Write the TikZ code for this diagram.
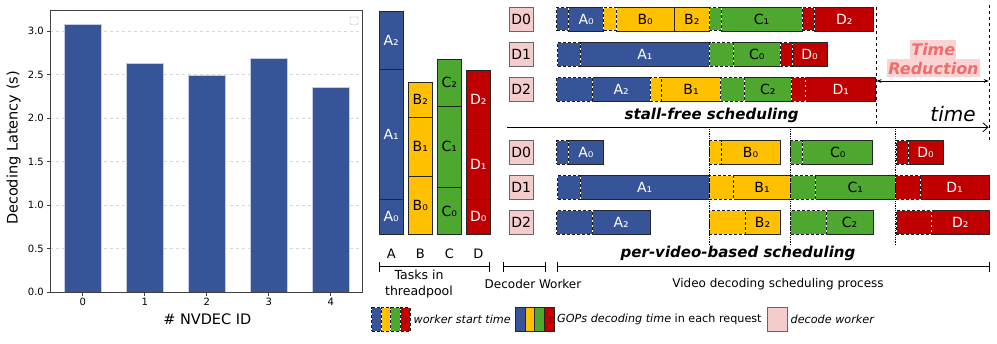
\documentclass[tikz,border=0pt]{standalone}
\usepackage{fontspec}
\setmainfont{DejaVu Sans}
\usetikzlibrary{arrows.meta,positioning}
\definecolor{gblue}{RGB}{56,84,152}
\definecolor{gyellow}{RGB}{255,192,0}
\definecolor{ggreen}{RGB}{78,167,46}
\definecolor{gred}{RGB}{192,0,0}
\definecolor{wpink}{RGB}{244,204,204}
\definecolor{trtext}{RGB}{238,110,110}
\definecolor{trbg}{RGB}{250,212,212}
\definecolor{gridgray}{RGB}{215,215,215}
\begin{document}
\begin{tikzpicture}[x=1pt,y=-1pt,
  gop/.style={draw=black!85,line width=0.8pt,inner sep=0pt,outer sep=0pt,minimum height=23.5pt,anchor=west,font=\fontsize{14}{16}\selectfont},
  wst/.style={draw=white,line width=1pt,inner sep=0pt,outer sep=0pt,minimum height=23.5pt,anchor=west,postaction={draw=black!90,line width=1pt,dash pattern=on 3pt off 2pt}},
  task/.style={draw=black!85,line width=0.8pt,inner sep=0pt,outer sep=0pt,minimum width=23.5pt,anchor=south,font=\fontsize{14}{16}\selectfont},
  wkr/.style={draw=black!60,line width=0.8pt,fill=wpink,inner sep=0pt,minimum width=24.5pt,minimum height=24pt,font=\fontsize{14}{16}\selectfont},
  lbl/.style={font=\fontsize{12}{16}\selectfont,align=center,inner sep=0pt},
  leg/.style={font=\fontsize{11.2}{13}\selectfont,anchor=west,inner sep=0pt},
  tick/.style={font=\fontsize{10}{12}\selectfont,inner sep=0pt},
  brk/.style={{Bar[width=10pt]}-{Bar[width=10pt]},line width=0.7pt}]
\useasboundingbox (0,0) rectangle (997,344);

% bar chart
\foreach \v in {0.5,1,1.5,2,2.5,3}
  \draw[gridgray,dashed,line width=0.6pt] (50,{292.3-87.1*\v}) -- (362.7,{292.3-87.1*\v});
\foreach \i/\v in {0/3.077,1/2.63,2/2.487,3/2.69,4/2.357}
  \filldraw[fill=gblue,draw=white!70!gblue,line width=0.5pt] ({82.8+62*\i-18.75},292.3) rectangle ({82.8+62*\i+18.75},{292.3-87.1*\v});
\draw[black!75,line width=0.8pt] (50,10) rectangle (362.7,292.3);
\draw[gray!60,rounded corners=1pt] (350,17) rectangle (358,24.5);
\foreach \v/\l [count=\k] in {0/0.0,0.5/0.5,1/1.0,1.5/1.5,2/2.0,2.5/2.5,3/3.0} {
  \draw[black!75,line width=0.7pt] (46.5,{292.3-87.1*\v}) -- (50,{292.3-87.1*\v});
  \node[tick,anchor=east] (yt\k) at (44,{292.3-87.1*\v}) {\l};
}
\foreach \i in {0,...,4} {
  \draw[black!75,line width=0.7pt] ({82.8+62*\i},292.3) -- ({82.8+62*\i},295.8);
  \node[tick,anchor=north] (xt\i) at ({82.8+62*\i},297.7) {\i};
}
\node[rotate=90,font=\fontsize{14.5}{16}\selectfont] (ylab) at (13.5,148) {Decoding Latency (s)};
\node[font=\fontsize{14.5}{16}\selectfont] (xlab) at (207.3,319.5) {\# NVDEC ID};

% tasks in threadpool
\foreach \n/\x/\ya/\yb/\c/\tc/\t in {
  A0/391.2/234.3/199.3/gblue/white/A₀, A1/391.2/199.3/69.7/gblue/white/A₁, A2/391.2/69.7/11.3/gblue/white/A₂,
  B0/420.3/234.3/176/gyellow/black/B₀, B1/420.3/176/117.3/gyellow/black/B₁, B2/420.3/117.3/82/gyellow/black/B₂,
  C0/449.3/234.3/187.7/ggreen/black/C₀, C1/449.3/187.7/106/ggreen/black/C₁, C2/449.3/106/59/ggreen/black/C₂,
  D0/478.3/234.3/199.3/gred/white/D₀, D1/478.3/199.3/129.3/gred/white/D₁, D2/478.3/129.3/70.3/gred/white/D₂}
  \node[task,fill=\c,text=\tc,minimum height={\ya pt-\yb pt}] (\n) at (\x,\ya) {\t};
\foreach \n/\x in {A/391.2,B/420.3,C/449.3,D/478.3}
  \node[lbl,font=\fontsize{13}{16}\selectfont] (col\n) at (\x,253.3) {\n};

% decode workers
\foreach \n/\y in {0/19.2,1/54.3,2/89.3}
  \node[wkr] (sdw\n) at (521.3,\y) {D\n};
\foreach \n/\y in {0/152.5,1/187.5,2/222.5}
  \node[wkr] (pdw\n) at (521.3,\y) {D\n};

% stall-free scheduling
\foreach \n/\xa/\xb/\yc/\c/\tc/\t in {
  sA0/568.7/603.7/19.2/gblue/white/A₀, sB0/616/674.3/19.2/gyellow/black/B₀, sB2/674.3/709.3/19.2/gyellow/black/B₂,
  sC1/721/802.3/19.2/ggreen/black/C₁, sD2/814.7/873.7/19.2/gred/white/D₂,
  sA1/580/709.7/54.3/gblue/white/A₁, sC0/733.3/780.3/54.3/ggreen/black/C₀, sD0/792/827/54.3/gred/white/D₀,
  sA2/592/650.3/89.3/gblue/white/A₂, sB1/661.7/720.3/89.3/gyellow/black/B₁, sC2/744.3/791.3/89.3/ggreen/black/C₂,
  sD1/805.7/875.7/89.3/gred/white/D₁}
  \node[gop,fill=\c,text=\tc,minimum width={\xb pt-\xa pt}] (\n) at (\xa,\yc) {\t};
\foreach \n/\xa/\xb/\yc/\c in {
  sw0a/556.7/568.7/19.2/gblue, sw0b/603.7/616/19.2/gyellow, sw0c/709.3/721/19.2/ggreen, sw0d/802.3/814.7/19.2/gred,
  sw1a/557.7/580/54.3/gblue, sw1c/709.7/733.3/54.3/ggreen, sw1d/780.3/792/54.3/gred,
  sw2a/556.7/592/89.3/gblue, sw2b/650.3/661.7/89.3/gyellow, sw2c/720.3/744.3/89.3/ggreen, sw2d/791.3/805.7/89.3/gred}
  \node[wst,fill=\c,minimum width={\xb pt-\xa pt}] (\n) at (\xa,\yc) {};

% per-video-based scheduling
\foreach \n/\xa/\xb/\yc/\c/\tc/\t in {
  pA0/568.7/603.3/152.5/gblue/white/A₀, pB0/721/780/152.5/gyellow/black/B₀, pC0/802.7/872.7/152.5/ggreen/black/C₀,
  pD0/908.3/943/152.5/gred/white/D₀,
  pA1/580/709.3/187.5/gblue/white/A₁, pB1/733.3/790.7/187.5/gyellow/black/B₁, pC1/815/895.7/187.5/ggreen/black/C₁,
  pD1/920/989.3/187.5/gred/white/D₁,
  pA2/592/650.3/222.5/gblue/white/A₂, pB2/745/780/222.5/gyellow/black/B₂, pC2/826/873/222.5/ggreen/black/C₂,
  pD2/931.3/989.3/222.5/gred/white/D₂}
  \node[gop,fill=\c,text=\tc,minimum width={\xb pt-\xa pt}] (\n) at (\xa,\yc) {\t};
\foreach \n/\xa/\xb/\yc/\c in {
  pw0a/556.7/568.7/152.5/gblue, pw0b/709/721/152.5/gyellow, pw0c/790.7/802.7/152.5/ggreen, pw0d/896/908.3/152.5/gred,
  pw1a/557.7/580/187.5/gblue, pw1b/709.3/733.3/187.5/gyellow, pw1c/790.7/815/187.5/ggreen, pw1d/895.7/920/187.5/gred,
  pw2a/556.7/592/222.5/gblue, pw2b/709/745/222.5/gyellow, pw2c/790.7/826/222.5/ggreen, pw2d/896/931.3/222.5/gred}
  \node[wst,fill=\c,minimum width={\xb pt-\xa pt}] (\n) at (\xa,\yc) {};

% time axis and markers
\coordinate (t0) at (507.3,127.3);
\coordinate (t1) at (988.5,127.3);
\draw[line width=0.8pt,-{Straight Barb[length=5pt,width=9pt]}] (t0) -- (t1);
\coordinate (sf0) at (876,7);
\coordinate (sf1) at (876,127.3);
\coordinate (pv0) at (989.3,5);
\coordinate (pv1) at (989.3,140);
\draw[dashed,line width=0.8pt] (sf0) -- (sf1);
\draw[dashed,line width=0.8pt] (pv0) -- (pv1);
\foreach \x [count=\k] in {709.3,790.7,895.7} {
  \coordinate (dt\k) at (\x,127.3);
  \coordinate (db\k) at (\x,245);
  \draw[densely dotted,line width=0.8pt] (dt\k) -- (db\k);
}
\coordinate (tr0) at (876.5,81);
\coordinate (tr1) at (988.8,81);
\draw[line width=0.7pt,{Stealth[length=5pt]}-{Stealth[length=5pt]}] (tr0) -- (tr1);
\node[fill=trbg,text=trtext,inner xsep=1pt,inner ysep=0pt,minimum height=19pt,font=\fontsize{16}{18}\bfseries\itshape\selectfont] (trtop) at (933.3,49.5) {Time};
\node[fill=trbg,text=trtext,inner xsep=1pt,inner ysep=0pt,minimum height=18pt,font=\fontsize{16}{18}\bfseries\itshape\selectfont] (trbot) at (933.5,68.5) {Reduction};
\node[font=\fontsize{20}{22}\itshape\selectfont] (tm) at (953,114) {time};
\node[font=\fontsize{15}{17}\bfseries\itshape\selectfont] (sfs) at (711.7,115) {stall-free scheduling};
\node[font=\fontsize{15}{17}\bfseries\itshape\selectfont] (pvs) at (738,253.3) {per-video-based scheduling};

% brackets
\coordinate (ta) at (379.3,266.7);
\coordinate (tb) at (490,266.7);
\coordinate (wa) at (502.7,266.7);
\coordinate (wb) at (545.7,266.7);
\coordinate (va) at (556.7,266.7);
\coordinate (vb) at (989.3,266.7);
\draw[brk] (ta) -- (tb);
\draw[brk] (wa) -- (wb);
\draw[brk] (va) -- (vb);
\node[lbl,font=\fontsize{12.5}{16}\selectfont] (tpl) at (419,284.5) {Tasks in\\threadpool};
\node[lbl] (dwl) at (533,284.3) {Decoder Worker};
\node[lbl] (vdl) at (778,284.3) {Video decoding scheduling process};

% legend
\foreach \i/\c in {0/gblue,1/gyellow,2/ggreen,3/gred} {
  \node[wst,fill=\c,minimum width=9.6pt,minimum height=23.6pt] (lw\i) at ({371.7+9.6*\i},319.5) {};
  \node[gop,fill=\c,minimum width=9.7pt,minimum height=23.6pt] (lg\i) at ({515.3+9.7*\i},319.5) {};
}
\node[wkr,minimum width=20.4pt,minimum height=23.6pt] (lpk) at (777.5,319.5) {};
\node[leg] (lt1) at (413.5,319.5) {\itshape worker start time};
\node[leg] (lt2) at (557,319.5) {\textit{GOPs decoding time} in each request};
\node[leg] (lt3) at (790.5,319.5) {\itshape decode worker};
\end{tikzpicture}
\end{document}
